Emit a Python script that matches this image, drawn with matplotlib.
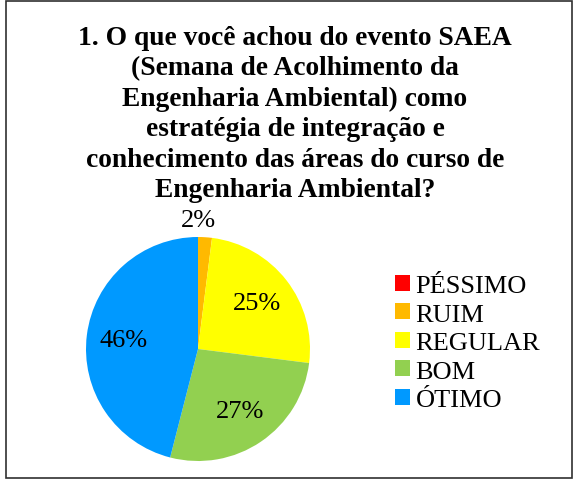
import numpy as np
import matplotlib.pyplot as plt
from matplotlib.patches import Rectangle

categorias = ['PÉSSIMO', 'RUIM', 'REGULAR', 'BOM', 'ÓTIMO']
percentuais = [0, 2, 25, 27, 46]
cores = ['#FF0000', '#FFB900', '#FFFF00', '#92D050', '#0099FF']
titulo = ('1. O que você achou do evento SAEA\n(Semana de Acolhimento da\n'
          'Engenharia Ambiental) como\nestratégia de integração e\n'
          'conhecimento das áreas do curso de\nEngenharia Ambiental?')

plt.rcParams['font.family'] = ['Liberation Serif', 'DejaVu Serif']

W, H = 577, 481
fig = plt.figure(figsize=(W / 100, H / 100), dpi=100)

# moldura
fig.patches.append(Rectangle((6 / W, 2 / H), 566 / W, 477 / H, transform=fig.transFigure,
                             fill=False, edgecolor='#303030', linewidth=1.2))

fig.text(295 / W, 1 - 26 / H, titulo, ha='center', va='top', fontsize=19.8,
         fontweight='bold', linespacing=1.28)

cx, cy, r = 198, 350, 112
ax = fig.add_axes([(cx - r) / W, (H - cy - r) / H, 2 * r / W, 2 * r / H])
wedges, _ = ax.pie(percentuais, colors=cores, startangle=90, counterclock=False,
                   radius=1, wedgeprops=dict(linewidth=0))
ax.set_xlim(-1, 1)
ax.set_ylim(-1, 1)
ax.axis('off')

for w, p in zip(wedges, percentuais):
    if p == 0:
        continue
    ang = np.deg2rad((w.theta1 + w.theta2) / 2)
    dist = 1.15 if p < 5 else 0.67
    x, y = dist * np.cos(ang), dist * np.sin(ang)
    if p < 5:
        x = 0
    ax.text(x, y, f'{p}%', ha='center', va='center', fontsize=19)

fig.legend(wedges, categorias, loc='center left', bbox_to_anchor=(382 / W, 1 - 344 / H),
           frameon=False, fontsize=19, handlelength=0.55, handleheight=0.55,
           handletextpad=0.22, labelspacing=0.24, borderpad=0)

fig.savefig('out.png', dpi=100)
